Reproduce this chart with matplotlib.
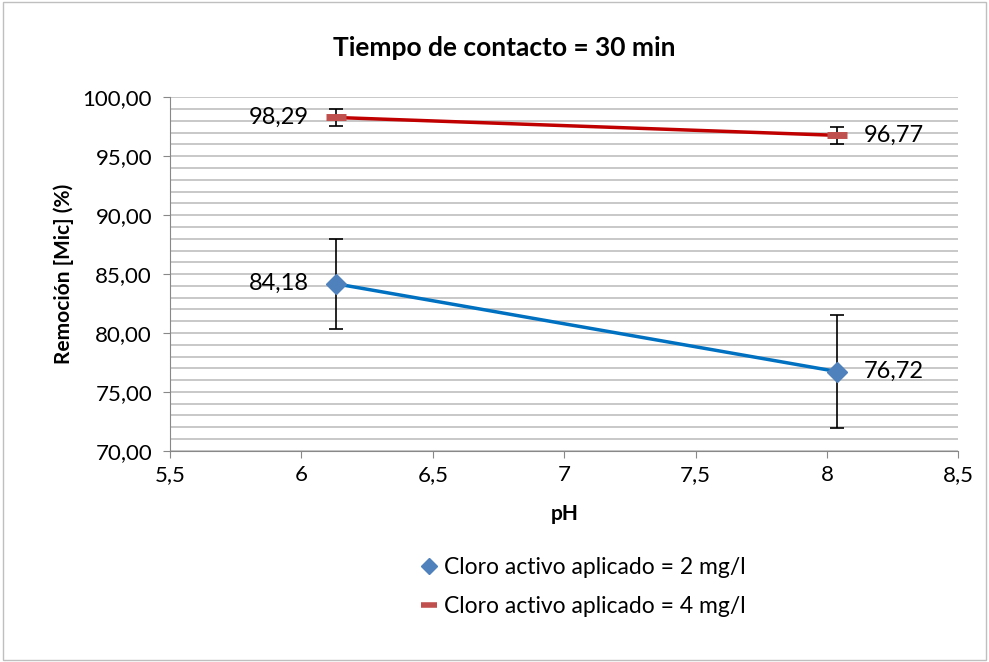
import matplotlib
matplotlib.use("Agg")
import matplotlib.pyplot as plt
from matplotlib.ticker import MultipleLocator, FuncFormatter
from matplotlib.patches import Rectangle

# data
ph_2 = [6.13, 8.04]
rem_2 = [84.18, 76.72]
err_2 = [3.8, 4.8]

ph_4 = [6.13, 8.04]
rem_4 = [98.29, 96.77]
err_4 = [0.7, 0.7]

labels_2 = ["84,18", "76,72"]
labels_4 = ["98,29", "96,77"]

plt.rcParams["font.family"] = ["Lato", "DejaVu Sans"]

fig = plt.figure(figsize=(9.89, 6.62), dpi=100)
ax = fig.add_axes([0.172, 0.319, 0.797, 0.534])

# outer chart border
fig.patches.append(Rectangle((0.003, 0.003), 0.994, 0.994, transform=fig.transFigure,
                             fill=False, edgecolor="#BFBFBF", linewidth=1))

# series 2 mg/l
ax.errorbar(ph_2, rem_2, yerr=err_2, fmt="none", ecolor="black", elinewidth=1.2,
            capsize=5, capthick=1.2, zorder=3)
ax.plot(ph_2, rem_2, color="#0070C0", linewidth=2.5, zorder=4)
ax.plot(ph_2, rem_2, linestyle="none", marker="D", markersize=10,
        color="#4F81BD", zorder=5)

# series 4 mg/l
ax.errorbar(ph_4, rem_4, yerr=err_4, fmt="none", ecolor="black", elinewidth=1.2,
            capsize=5, capthick=1.2, zorder=3)
ax.plot(ph_4, rem_4, color="#C00000", linewidth=2.5, zorder=4)
ax.plot(ph_4, rem_4, linestyle="none", marker="_", markersize=14, markeredgewidth=5,
        color="#C0504D", zorder=5)

# data labels
ax.text(ph_2[0] - 0.1, rem_2[0], labels_2[0], ha="right", va="center", fontsize=17)
ax.text(ph_2[1] + 0.1, rem_2[1], labels_2[1], ha="left", va="center", fontsize=17)
ax.text(ph_4[0] - 0.1, rem_4[0], labels_4[0], ha="right", va="center", fontsize=17)
ax.text(ph_4[1] + 0.1, rem_4[1], labels_4[1], ha="left", va="center", fontsize=17)

# legend handles (drawn below the axes)
ax.plot([], [], linestyle="none", marker="D", markersize=8, color="#4F81BD",
        label="Cloro activo aplicado = 2 mg/l")
ax.plot([], [], linestyle="none", marker="_", markersize=12, markeredgewidth=4,
        color="#C0504D", label="Cloro activo aplicado = 4 mg/l")
handles, lbls = ax.get_legend_handles_labels()
fig.legend(handles[-2:], lbls[-2:], loc="center", bbox_to_anchor=(0.59, 0.113),
           frameon=False, fontsize=16.5, handlelength=0.7, handletextpad=0.3,
           labelspacing=0.8)

ax.set_xlim(5.5, 8.5)
ax.set_ylim(70, 100)
ax.xaxis.set_major_locator(MultipleLocator(0.5))
ax.yaxis.set_major_locator(MultipleLocator(5))
ax.yaxis.set_minor_locator(MultipleLocator(1))
ax.xaxis.set_major_formatter(FuncFormatter(lambda v, p: ("%g" % v).replace(".", ",")))
ax.yaxis.set_major_formatter(FuncFormatter(lambda v, p: ("%.2f" % v).replace(".", ",")))

ax.grid(axis="y", which="both", color="#BFBFBF", linewidth=1.2)
ax.set_axisbelow(True)
ax.tick_params(axis="both", which="major", labelsize=16, length=5, color="#888888")
ax.tick_params(axis="y", which="major", pad=8)
ax.tick_params(axis="x", which="major", pad=5)
ax.tick_params(axis="y", which="minor", length=0)
for side in ["top", "right"]:
    ax.spines[side].set_visible(False)
for side in ["left", "bottom"]:
    ax.spines[side].set_color("#888888")

ax.set_xlabel("pH", fontsize=15, fontweight="bold", labelpad=14)
ax.set_ylabel("Remoción [Mic] (%)", fontsize=15, fontweight="bold", labelpad=6)
fig.text(0.51, 0.927, "Tiempo de contacto = 30 min", ha="center", va="center",
         fontsize=19, fontweight="bold")

plt.savefig("out.png", dpi=100)
plt.close()
